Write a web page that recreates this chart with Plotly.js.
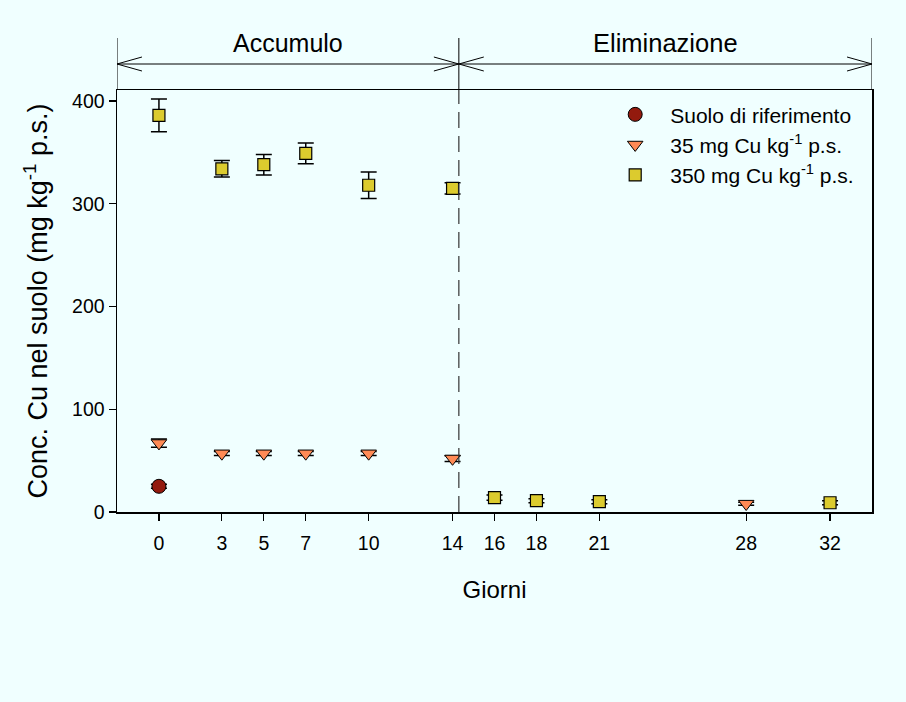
<!DOCTYPE html>
<html>
<head>
<meta charset="utf-8">
<script src="https://cdn.plot.ly/plotly-3.0.1.min.js"></script>
<style>html,body{margin:0;padding:0;background:#f0ffff;}</style>
</head>
<body>
<div id="chart" style="width:906px;height:702px;"></div>
<script>
// Data
const daysRef = [0];
const concRef = [25];
const errRef = [2];

const days35 = [0, 3, 5, 7, 10, 14, 28];
const conc35 = [67, 57, 57, 57, 57, 52, 8];
const err35 = [4, 2, 2, 2, 2, 2.8, 1.5];

const days350 = [0, 3, 5, 7, 10, 14, 16, 18, 21, 32];
const conc350 = [386, 334, 338, 349, 318, 315, 14, 11, 10, 9];
const err350 = [16, 8, 10, 10, 13, 5.5, 2.5, 2, 2, 2];

const xTicks = [0, 3, 5, 7, 10, 14, 16, 18, 21, 28, 32];
const yTicks = [0, 100, 200, 300, 400];

const seriesNames = ['Suolo di riferimento', '35 mg Cu kg<sup>-1</sup> p.s.', '350 mg Cu kg<sup>-1</sup> p.s.'];
const phaseLabels = ['Accumulo', 'Eliminazione'];
const phaseBounds = [-2, 14.3, 34];

const FONT = 'Liberation Sans, Arial, sans-serif';
const errStyle = (arr) => ({type: 'data', array: arr, visible: true, color: '#000', thickness: 1.5, width: 8});

const traces = [
  {x: daysRef, y: concRef, error_y: errStyle(errRef), mode: 'markers', type: 'scatter', name: seriesNames[0], legendgroup: 'a',
   marker: {symbol: 'circle', size: 14, color: '#931a0e', line: {color: '#000', width: 1}}},
  {x: days35, y: conc35, error_y: errStyle(err35), mode: 'markers', type: 'scatter', name: seriesNames[1], legendgroup: 'b',
   marker: {symbol: 'triangle-down', size: 13.5, color: '#ff8a55', line: {color: '#000', width: 1}}},
  {x: days350, y: conc350, error_y: errStyle(err350), mode: 'markers', type: 'scatter', name: seriesNames[2], legendgroup: 'c',
   marker: {symbol: 'square', size: 12, color: '#dccb2e', line: {color: '#000', width: 1.2}}}
];

const yTopHdr = 1 + 52 / 422;
const yArrow = 1 + 26 / 422;
const ahLen = 1.19, ahH = 7 / 422;
const ln = {color: '#000', width: 1};
const shapes = [];
// header vertical lines
phaseBounds.forEach(b => shapes.push({type: 'line', xref: 'x', yref: 'paper', x0: b, x1: b, y0: 1, y1: yTopHdr, line: ln}));
// arrow line
shapes.push({type: 'line', xref: 'x', yref: 'paper', x0: phaseBounds[0], x1: phaseBounds[2], y0: yArrow, y1: yArrow, line: ln});
// arrowheads
function head(xTip, dir) {
  [1, -1].forEach(s => shapes.push({type: 'line', xref: 'x', yref: 'paper', x0: xTip, y0: yArrow, x1: xTip + dir * ahLen, y1: yArrow + s * ahH, line: ln}));
}
head(phaseBounds[0], 1); head(phaseBounds[1], -1); head(phaseBounds[1], 1); head(phaseBounds[2], -1);
// dashed separator inside plot
shapes.push({type: 'line', xref: 'x', yref: 'paper', x0: phaseBounds[1], x1: phaseBounds[1], y0: 0, y1: 1,
  line: {color: '#333', width: 1.2, dash: '16px,8px'}});

const annotations = [
  {xref: 'x', yref: 'paper', x: (phaseBounds[0] + phaseBounds[1]) / 2, y: 1 + 47 / 422, text: phaseLabels[0], showarrow: false,
   font: {family: FONT, size: 25, color: '#000'}, yanchor: 'middle'},
  {xref: 'x', yref: 'paper', x: (phaseBounds[1] + phaseBounds[2]) / 2, y: 1 + 47 / 422, text: phaseLabels[1], showarrow: false,
   font: {family: FONT, size: 25.5, color: '#000'}, yanchor: 'middle'}
];

const layout = {
  width: 906, height: 702,
  paper_bgcolor: '#f0ffff', plot_bgcolor: '#f0ffff',
  margin: {l: 117, r: 34, t: 90, b: 190},
  font: {family: FONT, color: '#000'},
  showlegend: true,
  legend: {x: 0.64, xanchor: 'left', y: 0.99, yanchor: 'top', bgcolor: 'rgba(0,0,0,0)', borderwidth: 0,
    font: {family: FONT, size: 21, color: '#000'}, itemwidth: 60, traceorder: 'normal', tracegroupgap: 0},
  xaxis: {range: [-2, 34], tickmode: 'array', tickvals: xTicks, ticktext: xTicks.map(String),
    ticks: 'outside', ticklen: 7, tickwidth: 1.2, tickcolor: '#000', showline: true, linecolor: '#000', linewidth: 1.5, mirror: true,
    showgrid: false, zeroline: false, tickfont: {family: FONT, size: 19.5}, ticklabelstandoff: 6,
    title: {text: 'Giorni', font: {family: FONT, size: 24}, standoff: 28}},
  yaxis: {range: [0, 410.7], tickmode: 'array', tickvals: yTicks,
    ticks: 'outside', ticklen: 7, tickwidth: 1.2, tickcolor: '#000', showline: true, linecolor: '#000', linewidth: 1.5, mirror: true,
    showgrid: false, zeroline: false, tickfont: {family: FONT, size: 19.5},
    title: {text: 'Conc. Cu nel suolo (mg kg<sup>-1</sup> p.s.)', font: {family: FONT, size: 27}, standoff: 16}},
  shapes: shapes,
  annotations: annotations
};

Plotly.newPlot('chart', traces, layout, {displayModeBar: false, staticPlot: true});
</script>
</body>
</html>
